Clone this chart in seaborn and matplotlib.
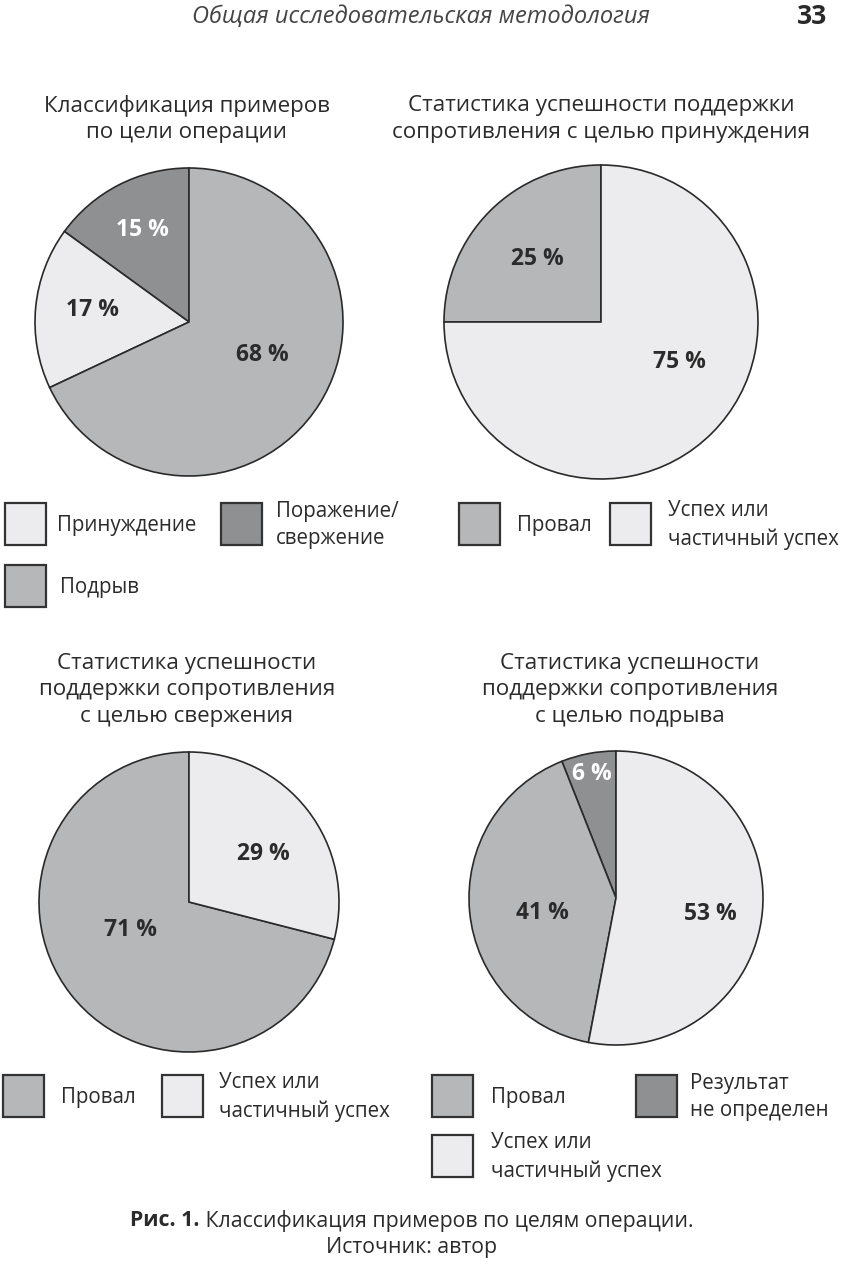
import numpy as np
import matplotlib
matplotlib.use("Agg")
import matplotlib.pyplot as plt
from matplotlib.patches import Rectangle
import seaborn as sns

# ---------------- data ----------------
header_title = "Общая исследовательская методология"
page_number = "33"

pie1_title = "Классификация примеров\nпо цели операции"
pie1_categories = ["Поражение/\nсвержение", "Принуждение", "Подрыв"]
pie1_values = [15, 17, 68]

pie2_title = "Статистика успешности поддержки\nсопротивления с целью принуждения"
pie2_categories = ["Провал", "Успех или\nчастичный успех"]
pie2_values = [25, 75]

pie3_title = "Статистика успешности\nподдержки сопротивления\nс целью свержения"
pie3_categories = ["Провал", "Успех или\nчастичный успех"]
pie3_values = [71, 29]

pie4_title = "Статистика успешности\nподдержки сопротивления\nс целью подрыва"
pie4_categories = ["Результат\nне определен", "Провал", "Успех или\nчастичный успех"]
pie4_values = [6, 41, 53]

caption_bold = "Рис. 1."
caption_rest = " Классификация примеров по целям операции."
caption_source = "Источник: автор"

# ---------------- style ----------------
sns.set_theme(style="white")
plt.rcParams['font.family'] = ['Open Sans', 'DejaVu Sans']

LIGHT = "#ececee"
MED = "#b6b7b9"
DARK = "#8f9092"
EDGE = "#2a2a2a"
TXT = "#2b2b2b"

color_map = {
    "Поражение/\nсвержение": DARK, "Принуждение": LIGHT, "Подрыв": MED,
    "Провал": MED, "Успех или\nчастичный успех": LIGHT,
    "Результат\nне определен": DARK,
}
white_text = {DARK}

W, H = 848, 1264
fig = plt.figure(figsize=(W / 100, H / 100), dpi=100)
fig.patch.set_facecolor("white")

# overlay axes in pixel coordinates (for titles, legends, caption)
ov = fig.add_axes([0, 0, 1, 1])
ov.set_xlim(0, W)
ov.set_ylim(H, 0)
ov.axis("off")
ov.set_zorder(5)
ov.patch.set_alpha(0)


def draw_pie(cx, cy, r, cats, vals, dists, shifts):
    pad = 2
    ax = fig.add_axes([(cx - r - pad) / W, (H - cy - r - pad) / H,
                       (2 * r + 2 * pad) / W, (2 * r + 2 * pad) / H])
    cols = [color_map[c] for c in cats]
    wedges, _ = ax.pie(vals, colors=cols, startangle=90, counterclock=True,
                       radius=1.0, wedgeprops=dict(edgecolor=EDGE, linewidth=1.2))
    lim = 1 + pad / r
    ax.set_xlim(-lim, lim)
    ax.set_ylim(-lim, lim)
    ax.set_aspect("equal")
    ax.axis("off")
    for w, v, c, d, s in zip(wedges, vals, cols, dists, shifts):
        ang = np.deg2rad((w.theta1 + w.theta2) / 2 + s)
        ax.text(d * np.cos(ang), d * np.sin(ang), f"{v} %", ha="center", va="center",
                fontsize=16.5, fontweight="bold",
                color="white" if c in white_text else TXT)
    return ax


draw_pie(189, 322, 154, pie1_categories, pie1_values, [0.67, 0.63, 0.52], [0, -2, 8])
draw_pie(601, 322, 157, pie2_categories, pie2_values, [0.57, 0.56], [0, 18])
draw_pie(189, 902, 150, pie3_categories, pie3_values, [0.43, 0.59], [-12, -5])
draw_pie(616, 898, 147, pie4_categories, pie4_values, [0.86, 0.51, 0.65], [0, 6, -4])

# titles
title_kw = dict(ha="center", va="center", fontsize=16.1, color=TXT, linespacing=1.34)
ov.text(187, 119, pie1_title, **title_kw)
ov.text(601, 119, pie2_title, **title_kw)
ov.text(187, 690, pie3_title, **title_kw)
ov.text(630, 690, pie4_title, **title_kw)

# header
ov.text(421, 17, header_title, ha="center", va="center", fontsize=17, style="italic", color="#444444")
ov.text(812, 17, page_number, ha="center", va="center", fontsize=19, fontweight="bold", color="#2a2a2a")


def legend_item(x, y, cat, tx):
    ov.add_patch(Rectangle((x, y), 41, 42, facecolor=color_map[cat], edgecolor="#333333", linewidth=1.6))
    ov.text(tx, y + 22, cat, ha="left", va="center", fontsize=14.8, color=TXT, linespacing=1.4)


# legend positions: (x, y, text_x)
legend_item(221, 503, pie1_categories[0], 276)
legend_item(5, 503, pie1_categories[1], 57)
legend_item(5, 565, pie1_categories[2], 60)

legend_item(459, 503, pie2_categories[0], 517)
legend_item(610, 503, pie2_categories[1], 668)

legend_item(3, 1075, pie3_categories[0], 61)
legend_item(162, 1075, pie3_categories[1], 219)

legend_item(636, 1075, pie4_categories[0], 690)
legend_item(432, 1075, pie4_categories[1], 491)
legend_item(432, 1135, pie4_categories[2], 491)

# caption (centred as a whole)
cap_kw = dict(va="center", fontsize=15.3, color=TXT)
t1 = ov.text(0, 1221, caption_bold, ha="left", fontweight="bold", **cap_kw)
t2 = ov.text(0, 1221, caption_rest, ha="left", **cap_kw)
fig.canvas.draw()
w1 = t1.get_window_extent().width
w2 = t2.get_window_extent().width
x0 = 412 - (w1 + w2) / 2
t1.set_x(x0)
t2.set_x(x0 + w1)
ov.text(412, 1248, caption_source, ha="center", va="center", fontsize=15.3, color=TXT)

fig.savefig("out.png", dpi=100, facecolor="white")
